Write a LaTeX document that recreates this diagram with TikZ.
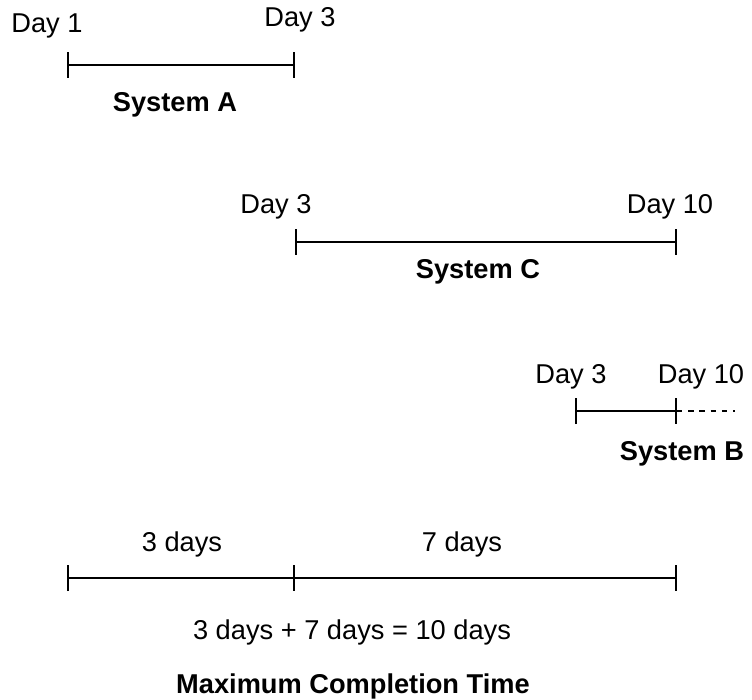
\documentclass[tikz,border=0pt]{standalone}
\usepackage{fontspec}
\setmainfont{Liberation Sans}
\usepackage{tikz}
\usetikzlibrary{arrows.meta,positioning}

\begin{document}
\begin{tikzpicture}[x=0.02cm, y=-0.02cm,
                    every node/.style={font=\fontsize{15.5}{18}\selectfont, inner sep=0pt, anchor=base},
                    sysname/.style={font=\fontsize{15.5}{18}\selectfont\bfseries},
                    tick/.tip={Bar[width=0.52cm,line width=1.1pt]},
                    span/.style={line width=1.1pt, tick-tick},
                    span rest/.style={line width=1.1pt, -tick},
                    later/.style={line width=0.7pt, dash pattern=on 3pt off 3.4pt}]
    \useasboundingbox (0,0) rectangle (752,700);

   % System A
   \node (a_start) at (47,32) {Day 1};
   \node (a_end) at (300,26) {Day 3};
   \coordinate (a_left) at (67,65);
   \coordinate (a_right) at (295,65);
   \node[sysname] (sys_a) at (175,111) {System A};

   % System C
   \node (c_start) at (276,213) {Day 3};
   \node (c_end) at (670,213) {Day 10};
   \coordinate (c_left) at (295,242);
   \coordinate (c_right) at (677,242);
   \node[sysname] (sys_c) at (478,278) {System C};

   % System B
   \node (b_start) at (571,383) {Day 3};
   \node (b_end) at (701,383) {Day 10};
   \coordinate (b_left) at (575,411);
   \coordinate (b_right) at (677,411);
   \coordinate (b_more) at (735,411);
   \node[sysname] (sys_b) at (682,460) {System B};

   % total
   \node (first_part) at (182,551) {3 days};
   \node (second_part) at (462,551) {7 days};
   \coordinate (t_left) at (67,578);
   \coordinate (t_mid) at (295,578);
   \coordinate (t_right) at (677,578);
   \node (sum) at (352,639) {3 days + 7 days = 10 days};
   \node[sysname] (max_time) at (353,693) {Maximum Completion Time};

   \path[span]
    (a_left) edge (a_right)
    (c_left) edge (c_right)
    (b_left) edge (b_right)
    (t_left) edge (t_mid)
    (t_mid) edge[span rest] (t_right);
   \draw[later] (b_right) -- (b_more);

\end{tikzpicture}
\end{document}
